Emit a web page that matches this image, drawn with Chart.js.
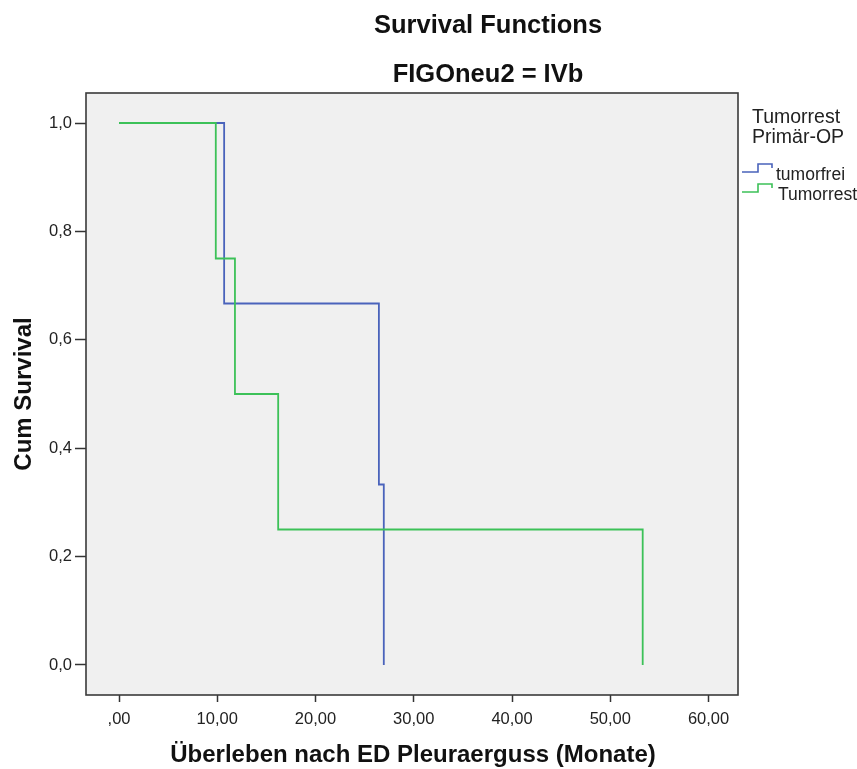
<!DOCTYPE html>
<html>
<head>
<meta charset="utf-8">
<script src="https://cdn.jsdelivr.net/npm/chart.js@4.4.1/dist/chart.umd.min.js"></script>
<style>
  html, body { margin: 0; padding: 0; background: #ffffff; }
  #wrap { width: 857px; height: 769px; }
</style>
</head>
<body>
<div id="wrap"><canvas id="c" width="857" height="769"></canvas></div>
<script>
// ---- data ----
const seriesLabels = ['tumorfrei', 'Tumorrest'];
const tumorfreiTime = [0, 10.7, 26.45, 26.95];
const tumorfreiSurv = [1.0, 0.667, 0.333, 0.0];
const tumorrestTime = [0, 9.85, 11.8, 16.2, 53.3];
const tumorrestSurv = [1.0, 0.75, 0.5, 0.25, 0.0];
const xTickValues = [0, 10, 20, 30, 40, 50, 60];
const yTickValues = [0, 0.2, 0.4, 0.6, 0.8, 1.0];
const titleLines = ['Survival Functions', 'FIGOneu2 = IVb'];
const legendTitle = ['Tumorrest', 'Primär-OP'];
const xAxisTitle = 'Überleben nach ED Pleuraerguss (Monate)';
const yAxisTitle = 'Cum Survival';

const FONT = '"Liberation Sans", Arial, "DejaVu Sans", sans-serif';
const BLUE = '#4a63bb';
const GREEN = '#3cc158';

function pts(t, s) { return t.map((v, i) => ({ x: v, y: s[i] })); }

const decor = {
  id: 'decor',
  beforeDraw(chart) {
    const { ctx, chartArea: a } = chart;
    ctx.save();
    ctx.fillStyle = '#ffffff';
    ctx.fillRect(0, 0, chart.width, chart.height);
    ctx.fillStyle = '#f0f0f0';
    ctx.fillRect(a.left, a.top, a.right - a.left, a.bottom - a.top);
    ctx.restore();
  },
  afterDraw(chart) {
    const { ctx, chartArea: a } = chart;
    ctx.save();
    // plot frame
    ctx.strokeStyle = '#3a3a3a';
    ctx.lineWidth = 1.6;
    ctx.strokeRect(a.left, a.top, a.right - a.left, a.bottom - a.top);

    // titles
    ctx.fillStyle = '#111';
    ctx.textAlign = 'center';
    ctx.textBaseline = 'alphabetic';
    ctx.font = 'bold 25.5px ' + FONT;
    ctx.fillText(titleLines[0], 488, 33);
    ctx.fillText(titleLines[1], 488, 82);

    // x axis title
    ctx.font = 'bold 24px ' + FONT;
    ctx.fillText(xAxisTitle, 413, 762);

    // y axis title
    ctx.save();
    ctx.translate(31, 394);
    ctx.rotate(-Math.PI / 2);
    ctx.textAlign = 'center';
    ctx.fillText(yAxisTitle, 0, 0);
    ctx.restore();

    // legend
    ctx.textAlign = 'left';
    ctx.font = '19.5px ' + FONT;
    ctx.fillStyle = '#222';
    ctx.fillText(legendTitle[0], 752, 123);
    ctx.fillText(legendTitle[1], 752, 143);

    ctx.font = '17.5px ' + FONT;
    const ds = chart.data.datasets;
    const rows = [172, 192];
    ds.forEach((d, i) => {
      const yl = rows[i];
      const yh = yl - 8;
      ctx.strokeStyle = d.borderColor;
      ctx.lineWidth = 1.6;
      ctx.beginPath();
      ctx.moveTo(742, yl);
      ctx.lineTo(758, yl);
      ctx.lineTo(758, yh);
      ctx.lineTo(772, yh);
      ctx.lineTo(772, yh + 4);
      ctx.stroke();
      ctx.fillStyle = '#222';
      ctx.fillText(d.label, 776 + i * 2, yl + 8);
    });
    ctx.restore();
  }
};

new Chart(document.getElementById('c'), {
  type: 'line',
  data: {
    datasets: [
      {
        label: seriesLabels[0],
        data: pts(tumorfreiTime, tumorfreiSurv),
        borderColor: BLUE,
        borderWidth: 1.8,
        stepped: true,
        pointRadius: 0,
        fill: false,
        order: 1
      },
      {
        label: seriesLabels[1],
        data: pts(tumorrestTime, tumorrestSurv),
        borderColor: GREEN,
        borderWidth: 1.8,
        stepped: true,
        pointRadius: 0,
        fill: false,
        order: 0
      }
    ]
  },
  options: {
    responsive: false,
    animation: false,
    events: [],
    layout: { padding: { left: 0, top: 93, right: 119, bottom: 0 } },
    plugins: { legend: { display: false }, title: { display: false }, tooltip: { enabled: false } },
    scales: {
      x: {
        type: 'linear',
        min: -3.36,
        max: 63.0,
        afterBuildTicks(scale) { scale.ticks = xTickValues.map(v => ({ value: v })); },
        afterFit(scale) { scale.height = 74; },
        border: { display: false },
        grid: { drawOnChartArea: false, drawTicks: true, tickLength: 7, tickWidth: 1.5, tickColor: '#333' },
        ticks: {
          color: '#222',
          font: { family: FONT, size: 16.5 },
          padding: 8,
          maxRotation: 0,
          autoSkip: false,
          callback(v) { return v === 0 ? ',00' : Number(v).toFixed(2).replace('.', ','); }
        }
      },
      y: {
        type: 'linear',
        min: -0.0554,
        max: 1.0554,
        afterBuildTicks(scale) { scale.ticks = yTickValues.map(v => ({ value: v })); },
        afterFit(scale) { scale.width = 86; },
        border: { display: false },
        grid: { drawOnChartArea: false, drawTicks: true, tickLength: 11, tickWidth: 1.5, tickColor: '#333' },
        ticks: {
          color: '#222',
          font: { family: FONT, size: 16.5 },
          padding: 3,
          autoSkip: false,
          callback(v) { return Number(v).toFixed(1).replace('.', ','); }
        }
      }
    }
  },
  plugins: [decor]
});
</script>
</body>
</html>
